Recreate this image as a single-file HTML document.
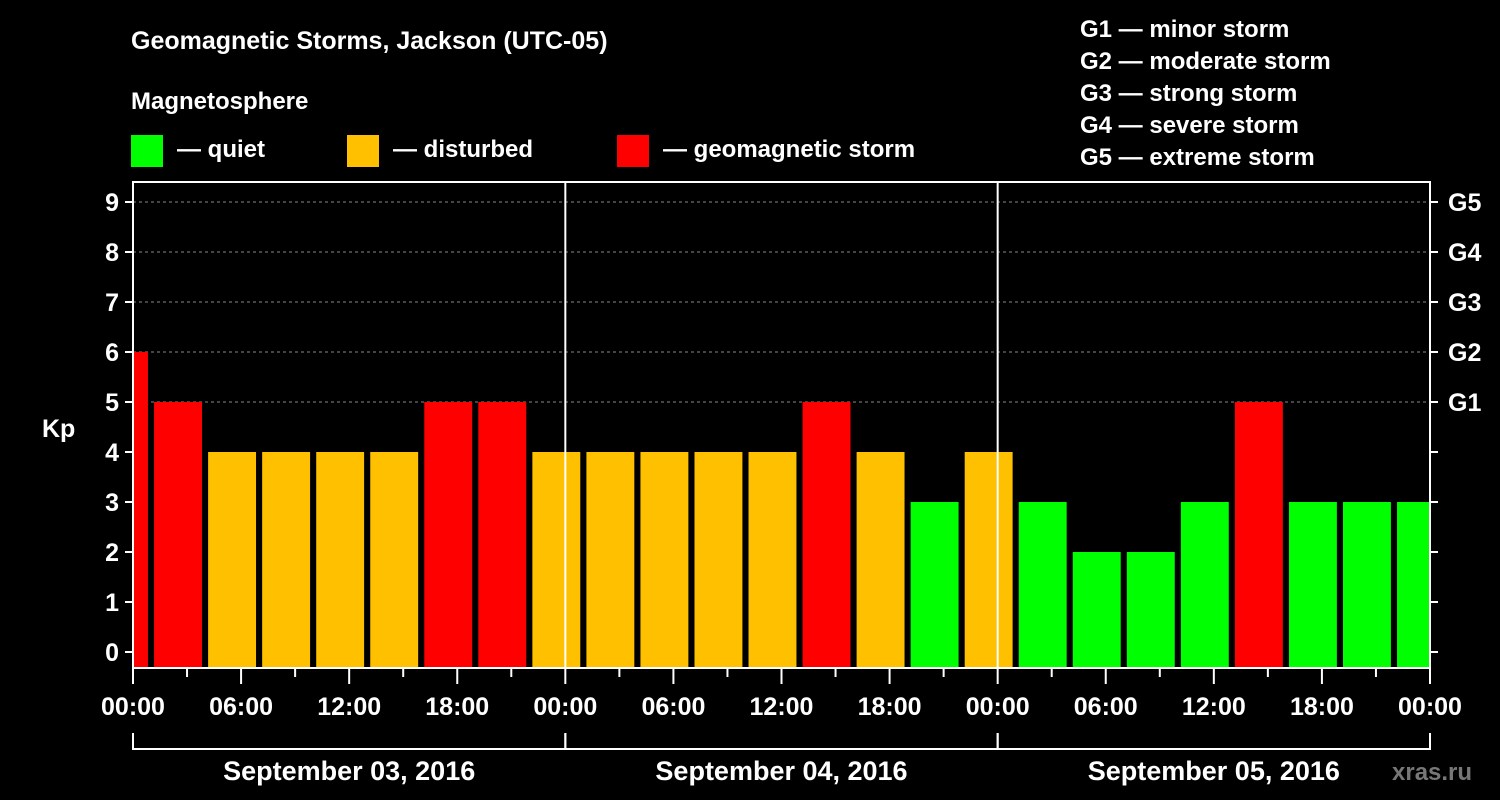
<!DOCTYPE html>
<html><head><meta charset="utf-8"><style>
html,body{margin:0;padding:0;background:#000;}
svg{display:block;font-family:"Liberation Sans",Arial,sans-serif;font-weight:bold;}
</style></head><body>
<svg id="chart" width="1500" height="800" viewBox="0 0 1500 800" xmlns="http://www.w3.org/2000/svg">
<rect width="1500" height="800" fill="#000"/>
<text x="131" y="49" fill="#fff" font-size="25">Geomagnetic Storms, Jackson (UTC-05)</text>
<text x="131" y="109" fill="#fff" font-size="24">Magnetosphere</text>
<g><rect x="131" y="135" width="32" height="32" fill="#00ff00"/><text x="177" y="157" fill="#fff" font-size="24">— quiet</text></g>
<g><rect x="347" y="135" width="32" height="32" fill="#ffc000"/><text x="393" y="157" fill="#fff" font-size="24">— disturbed</text></g>
<g><rect x="617" y="135" width="32" height="32" fill="#ff0000"/><text x="663" y="157" fill="#fff" font-size="24">— geomagnetic storm</text></g>
<g fill="#fff" font-size="24">
<text x="1080" y="37">G1 — minor storm</text>
<text x="1080" y="69">G2 — moderate storm</text>
<text x="1080" y="101">G3 — strong storm</text>
<text x="1080" y="133">G4 — severe storm</text>
<text x="1080" y="165">G5 — extreme storm</text>
</g>
<text x="42" y="437" fill="#fff" font-size="25">Kp</text>
<text x="1392" y="780" fill="#777" font-size="24">xras.ru</text>
<g id="grid"></g><g id="bars"></g><g id="axes"></g>
</svg>
<script>
const kpValues=[6,5,4,4,4,4,5,5,4,4,4,4,4,5,4,3,4,3,2,2,3,5,3,3,3];
const yTicks=[0,1,2,3,4,5,6,7,8,9];
const gLabels=["G1","G2","G3","G4","G5"];
const gLevels=[5,6,7,8,9];
const dayLabels=["September 03, 2016","September 04, 2016","September 05, 2016"];
const hourLabels=["00:00","06:00","12:00","18:00"];

const X0=133,X1=1430,YB=668,YT=182;
const pxPerHour=(X1-X0)/72;
const xs=h=>X0+h*pxPerHour;
const ys=v=>652-v*50;
const NS="http://www.w3.org/2000/svg";
function mk(tag,attrs,parent){const e=document.createElementNS(NS,tag);for(const k in attrs)e.setAttribute(k,attrs[k]);parent.appendChild(e);return e;}
const grid=document.getElementById('grid'),bars=document.getElementById('bars'),axes=document.getElementById('axes');
function color(v){return v>=5?"#ff0000":(v>=4?"#ffc000":"#00ff00");}

gLevels.forEach((lv,i)=>{
  const l=mk('line',{x1:X0,x2:X1,y1:ys(lv),y2:ys(lv),stroke:"#888","stroke-dasharray":"3,3","stroke-width":1},grid);
  
  
});

kpValues.forEach((v,i)=>{
  let h0=-2+3*i+0.17, h1=-2+3*i+2.83;
  h0=Math.max(h0,0.05); h1=Math.min(h1,72);
  const r=mk('rect',{x:xs(h0),y:ys(v),width:xs(h1)-xs(h0),height:YB-ys(v),fill:color(v)},bars);
  
  
});

// day separators
[24,48].forEach((h,i)=>{
  const l=mk('line',{x1:xs(h),x2:xs(h),y1:YT,y2:YB,stroke:"#fff","stroke-width":2},axes);
  
  
});
// frame
const fr=mk('rect',{x:X0,y:YT,width:X1-X0,height:YB-YT,fill:"none",stroke:"#fff","stroke-width":2},axes);



yTicks.forEach(t=>{
  const y=ys(t);
  mk('line',{x1:X0-8,x2:X0,y1:y,y2:y,stroke:"#fff","stroke-width":2},axes);
  mk('line',{x1:X1,x2:X1+8,y1:y,y2:y,stroke:"#fff","stroke-width":2},axes);
  const tx=mk('text',{x:X0-14,y:y+9,fill:"#fff","font-size":25,"text-anchor":"end"},axes);
  tx.textContent=t;
  
  
});
gLevels.forEach((lv,i)=>{
  const tx=mk('text',{x:X1+18,y:ys(lv)+9,fill:"#fff","font-size":25},axes);
  tx.textContent=gLabels[i];
  
  
});

for(let h=0;h<=72;h+=3){
  const major=h%6===0;
  mk('line',{x1:xs(h),x2:xs(h),y1:YB,y2:YB+(major?16:9),stroke:"#fff","stroke-width":2},axes);
  if(major){
    const tx=mk('text',{x:xs(h),y:YB+47,fill:"#fff","font-size":25,"text-anchor":"middle"},axes);
    tx.textContent=hourLabels[(h%24)/6];
    
    
  }
}
dayLabels.forEach((d,i)=>{
  const a=xs(24*i),b=xs(24*i+24);
  const p=mk('path',{d:`M${a},733V749H${b}V733`,fill:"none",stroke:"#fff","stroke-width":2},axes);
  
  
  const tx=mk('text',{x:(a+b)/2,y:780,fill:"#fff","font-size":27,"text-anchor":"middle"},axes);
  tx.textContent=d;
  
  
});
</script>
</body></html>
